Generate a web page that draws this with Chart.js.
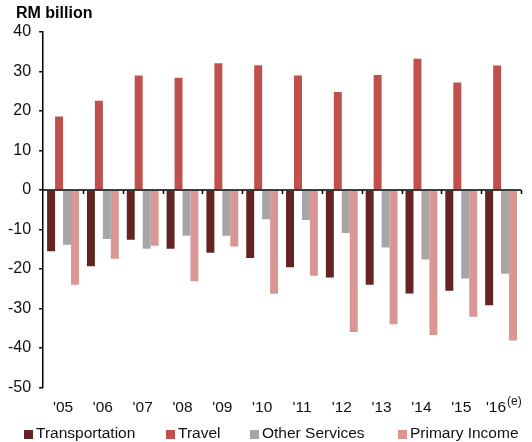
<!DOCTYPE html>
<html>
<head>
<meta charset="utf-8">
<script src="https://cdn.jsdelivr.net/npm/chart.js@4"></script>
<style>
html,body{margin:0;padding:0;background:#fff;}
#wrap{width:532px;height:442px;}
</style>
</head>
<body>
<div id="wrap"><canvas id="c" width="532" height="442"></canvas></div>
<script>
const categories = ["'05","'06","'07","'08","'09","'10","'11","'12","'13","'14","'15","'16"];
const transportation = [-15.5,-19.3,-12.6,-14.9,-15.9,-17.2,-19.6,-22.2,-24.0,-26.2,-25.5,-29.2];
const travel = [18.6,22.6,29.0,28.4,32.1,31.6,29.0,24.8,29.1,33.2,27.2,31.5];
const otherServices = [-13.9,-12.4,-14.9,-11.6,-11.6,-7.4,-7.6,-10.9,-14.6,-17.6,-22.4,-21.2];
const primaryIncome = [-24.0,-17.4,-14.1,-23.1,-14.3,-26.3,-21.7,-36.0,-34.0,-36.7,-32.1,-38.1];
const yTicks = [40,30,20,10,0,-10,-20,-30,-40,-50];
const titleText = 'RM billion';
const lastLabelNote = '(e)';
const legendX = [24, 166, 250, 398];

const FONT = "'Liberation Sans', Arial, sans-serif";
const N = categories.length;

const axisDeco = {
  id: 'axisDeco',
  afterDatasetsDraw(chart) {
    const {ctx, scales:{x, y}} = chart;
    const y0 = y.getPixelForValue(0);
    ctx.save();
    ctx.strokeStyle = '#000';
    ctx.lineWidth = 1.5;
    ctx.beginPath();
    ctx.moveTo(x.left, y0);
    ctx.lineTo(x.right, y0);
    const w = (x.right - x.left) / N;
    for (let i = 1; i <= N; i++) {
      const xb = Math.round(x.left + i * w) + 0.5;
      ctx.moveTo(xb, y0);
      ctx.lineTo(xb, y0 + 4);
    }
    ctx.stroke();
    // last category label with superscript note
    const lx = x.getPixelForValue(N - 1);
    ctx.textBaseline = 'middle';
    ctx.font = '15.5px ' + FONT;
    ctx.fillStyle = '#111';
    ctx.textAlign = 'right';
    ctx.fillText(categories[N - 1], lx + 5, y.bottom + 20);
    ctx.font = '12px ' + FONT;
    ctx.textAlign = 'left';
    ctx.fillText(lastLabelNote, lx + 6, y.bottom + 14);
    // title
    ctx.font = 'bold 16px ' + FONT;
    ctx.fillStyle = '#000';
    ctx.fillText(titleText, 16, 14);
    // legend
    ctx.font = '15.5px ' + FONT;
    chart.data.datasets.forEach((ds, i) => {
      ctx.fillStyle = ds.backgroundColor;
      ctx.fillRect(legendX[i], 430, 9, 9);
      ctx.fillStyle = '#111';
      ctx.fillText(ds.label, legendX[i] + 12, 434);
    });
    ctx.restore();
  }
};

new Chart(document.getElementById('c'), {
  type: 'bar',
  data: {
    labels: categories,
    datasets: [
      {label: 'Transportation', data: transportation, backgroundColor: '#632523'},
      {label: 'Travel', data: travel, backgroundColor: '#C0504D'},
      {label: 'Other Services', data: otherServices, backgroundColor: '#A6A6A6'},
      {label: 'Primary Income', data: primaryIncome, backgroundColor: '#DA9694'}
    ]
  },
  options: {
    responsive: false,
    animation: false,
    layout: {padding: {left: 0, right: 11, top: 32, bottom: 14}},
    datasets: {bar: {categoryPercentage: 0.8, barPercentage: 1.0}},
    scales: {
      x: {
        grid: {display: false, drawTicks: false},
        border: {display: false},
        ticks: {
          color: c => (c.index === N - 1 ? 'rgba(0,0,0,0)' : '#111'),
          font: {family: FONT, size: 15.5}, padding: 11, maxRotation: 0, autoSkip: false
        }
      },
      y: {
        min: -50, max: 40,
        afterBuildTicks(scale) { scale.ticks = yTicks.map(v => ({value: v})); },
        grid: {display: true, drawOnChartArea: false, drawTicks: true, tickLength: 4, color: '#000', lineWidth: 1.5},
        border: {display: true, color: '#000', width: 1.5},
        ticks: {color: '#111', font: {family: FONT, size: 16}, padding: 8}
      }
    },
    plugins: {
      legend: {display: false},
      tooltip: {enabled: false},
      title: {display: false}
    }
  },
  plugins: [axisDeco]
});
</script>
</body>
</html>
